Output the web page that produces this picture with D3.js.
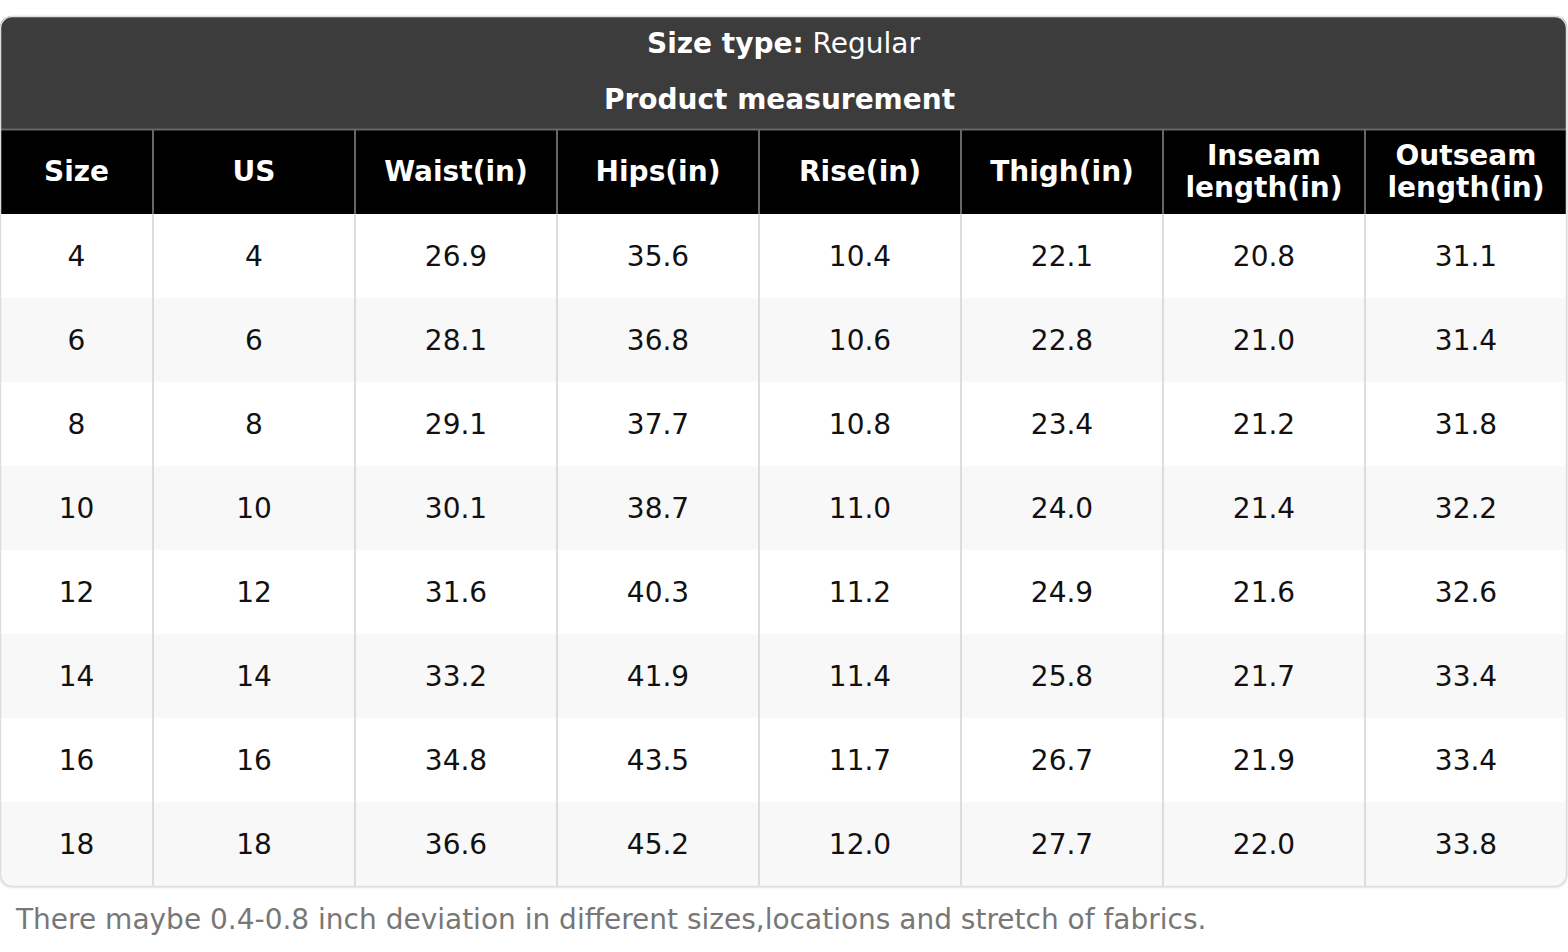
<!DOCTYPE html>
<html>
<head>
<meta charset="utf-8">
<script src="https://cdn.jsdelivr.net/npm/d3@7"></script>
<style>
  html, body { margin: 0; padding: 0; background: #fff; }
  svg { display: block; font-family: "DejaVu Sans", sans-serif; }
</style>
</head>
<body>
<svg id="chart"></svg>
<script>
var columns = ["Size", "US", "Waist(in)", "Hips(in)", "Rise(in)", "Thigh(in)", "Inseam\nlength(in)", "Outseam\nlength(in)"];
var sizes = ["4", "6", "8", "10", "12", "14", "16", "18"];
var us = ["4", "6", "8", "10", "12", "14", "16", "18"];
var waist = ["26.9", "28.1", "29.1", "30.1", "31.6", "33.2", "34.8", "36.6"];
var hips = ["35.6", "36.8", "37.7", "38.7", "40.3", "41.9", "43.5", "45.2"];
var rise = ["10.4", "10.6", "10.8", "11.0", "11.2", "11.4", "11.7", "12.0"];
var thigh = ["22.1", "22.8", "23.4", "24.0", "24.9", "25.8", "26.7", "27.7"];
var inseam = ["20.8", "21.0", "21.2", "21.4", "21.6", "21.7", "21.9", "22.0"];
var outseam = ["31.1", "31.4", "31.8", "32.2", "32.6", "33.4", "33.4", "33.8"];
var sizeType = "Regular";
var caption = "Product measurement";
var note = "There maybe 0.4-0.8 inch deviation in different sizes,locations and stretch of fabrics.";

function show() {
    'use strict';
    var width = 1568, height = 952;
    var table = {left: 0, right: 1567, top: 16, titleBottom: 129, headBottom: 214, bottom: 886};
    var firstCol = 153;
    var fs = 28;

    var series = [sizes, us, waist, hips, rise, thigh, inseam, outseam];
    var rows = sizes.map(function(s, i) {
        return series.map(function(col) { return col[i]; });
    });

    var svg = d3.select("#chart").attr("width", width).attr("height", height);

    // columns: narrow first one, equal bands after it
    var band = d3.scaleBand().domain(d3.range(1, columns.length))
        .range([table.left + firstCol, table.right]);
    function colX(i) { return i === 0 ? table.left : band(i); }
    function colW(i) { return i === 0 ? firstCol : band.bandwidth(); }

    var y = d3.scaleBand().domain(d3.range(rows.length))
        .range([table.headBottom, table.bottom]);

    var defs = svg.append("defs");
    var f = defs.append("filter").attr("id", "shadow").attr("x", "-5%").attr("y", "-5%")
        .attr("width", "110%").attr("height", "110%");
    f.append("feDropShadow").attr("dx", 0).attr("dy", 1).attr("stdDeviation", 1.5)
        .attr("flood-color", "#000").attr("flood-opacity", 0.18);
    defs.append("clipPath").attr("id", "clip-table")
        .append("rect")
        .attr("x", table.left).attr("y", table.top)
        .attr("width", table.right - table.left).attr("height", table.bottom - table.top)
        .attr("rx", 12);

    svg.append("rect")
        .attr("x", table.left).attr("y", table.top)
        .attr("width", table.right - table.left).attr("height", table.bottom - table.top)
        .attr("rx", 12).attr("fill", "#fff").attr("filter", "url(#shadow)");

    var g = svg.append("g").attr("clip-path", "url(#clip-table)");

    // title band
    g.append("rect")
        .attr("x", table.left).attr("y", table.top)
        .attr("width", table.right - table.left).attr("height", table.titleBottom - table.top)
        .attr("fill", "#3c3c3c");

    var cx = (table.left + table.right) / 2;
    var t1 = g.append("text").attr("x", cx).attr("y", 53)
        .attr("text-anchor", "middle").attr("fill", "#fff").attr("font-size", fs);
    t1.append("tspan").attr("font-weight", "bold").text("Size type:");
    t1.append("tspan").text(" " + sizeType);
    g.append("text").attr("x", cx - 4).attr("y", 109)
        .attr("text-anchor", "middle").attr("fill", "#fff")
        .attr("font-size", fs).attr("font-weight", "bold").text(caption);

    // header row
    g.append("rect")
        .attr("x", table.left).attr("y", table.titleBottom)
        .attr("width", table.right - table.left).attr("height", table.headBottom - table.titleBottom)
        .attr("fill", "#000");
    g.append("line")
        .attr("x1", table.left).attr("x2", table.right)
        .attr("y1", table.titleBottom + 0.5).attr("y2", table.titleBottom + 0.5)
        .attr("stroke", "#666").attr("stroke-width", 2);

    var headMid = 171;
    var heads = g.append("g").selectAll("text").data(columns).enter()
        .append("text")
        .attr("text-anchor", "middle").attr("fill", "#fff")
        .attr("font-size", fs).attr("font-weight", "bold");
    heads.each(function(d, i) {
        var lines = d.split("\n");
        var t = d3.select(this);
        lines.forEach(function(line, k) {
            t.append("tspan")
                .attr("x", colX(i) + colW(i) / 2)
                .attr("y", headMid + 10 + (k - (lines.length - 1) / 2) * 32)
                .text(line);
        });
    });

    // body rows
    g.append("g").selectAll("rect").data(rows).enter()
        .append("rect")
        .attr("x", table.left).attr("y", function(d, i) { return y(i); })
        .attr("width", table.right - table.left).attr("height", y.bandwidth())
        .attr("fill", function(d, i) { return i % 2 ? "#f8f8f8" : "#fff"; });

    // vertical rules
    var edges = d3.range(1, columns.length).map(function(i) { return colX(i); });
    g.append("g").selectAll("line").data(edges).enter()
        .append("line")
        .attr("x1", function(d) { return d; }).attr("x2", function(d) { return d; })
        .attr("y1", table.titleBottom + 1).attr("y2", table.headBottom)
        .attr("stroke", "#666").attr("stroke-width", 2);
    g.append("g").selectAll("line").data(edges).enter()
        .append("line")
        .attr("x1", function(d) { return d; }).attr("x2", function(d) { return d; })
        .attr("y1", table.headBottom).attr("y2", table.bottom)
        .attr("stroke", "#ddd").attr("stroke-width", 2);

    var rowG = g.append("g").selectAll("g").data(rows).enter()
        .append("g")
        .attr("transform", function(d, i) { return "translate(0," + (y(i) + y.bandwidth() / 2) + ")"; });
    rowG.selectAll("text").data(function(d) { return d; }).enter()
        .append("text")
        .attr("x", function(d, i) { return colX(i) + colW(i) / 2; })
        .attr("y", 10)
        .attr("text-anchor", "middle").attr("fill", "#111")
        .attr("font-size", fs)
        .text(function(d) { return d; });

    // outer border
    svg.append("rect")
        .attr("x", table.left + 0.5).attr("y", table.top + 0.5)
        .attr("width", table.right - table.left - 1).attr("height", table.bottom - table.top)
        .attr("rx", 12).attr("fill", "none").attr("stroke", "#ddd").attr("stroke-width", 1.5);

    svg.append("text").attr("x", 16).attr("y", 929)
        .attr("fill", "#777").attr("font-size", fs)
        .text(note);
}
show();
</script>
</body>
</html>
